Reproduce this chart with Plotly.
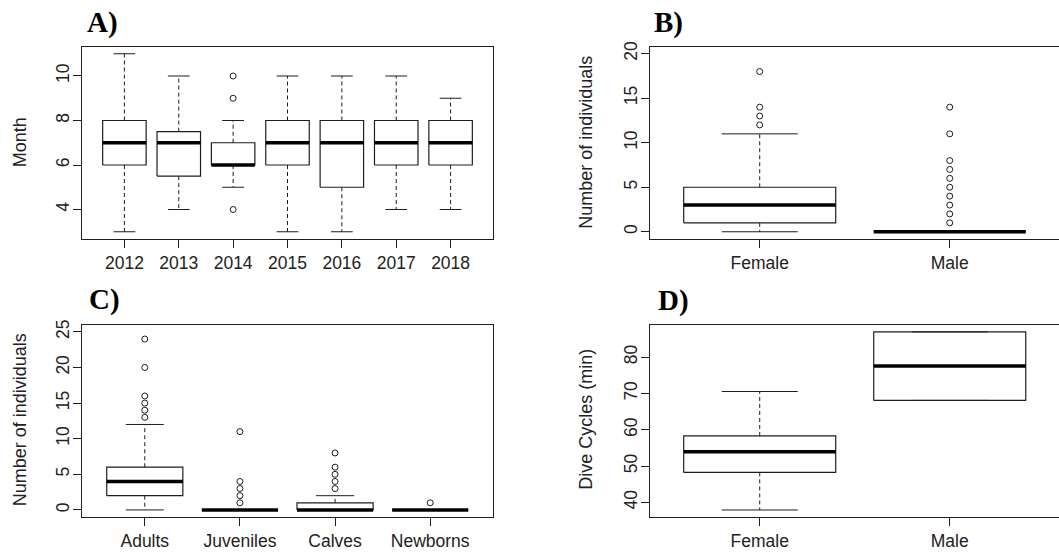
import plotly.graph_objects as go

# ---------------- data ----------------
# Panel A: month by year
years = ['2012', '2013', '2014', '2015', '2016', '2017', '2018']
a_low = [3, 4, 5, 3, 3, 4, 4]
a_q1 = [6, 5.5, 6, 6, 5, 6, 6]
a_med = [7, 7, 6, 7, 7, 7, 7]
a_q3 = [8, 7.5, 7, 8, 8, 8, 8]
a_high = [11, 10, 8, 10, 10, 10, 9]
a_out = [[], [], [4, 9, 10], [], [], [], []]

# Panel B: number of individuals by sex
sexes = ['Female', 'Male']
b_low = [0, 0]
b_q1 = [1, 0]
b_med = [3, 0]
b_q3 = [5, 0]
b_high = [11, 0]
b_out = [[12, 13, 14, 18], [1, 2, 3, 4, 5, 6, 7, 8, 11, 14]]

# Panel C: number of individuals by age class
ages = ['Adults', 'Juveniles', 'Calves', 'Newborns']
c_low = [0, 0, 0, 0]
c_q1 = [2, 0, 0, 0]
c_med = [4, 0, 0, 0]
c_q3 = [6, 0, 1, 0]
c_high = [12, 0, 2, 0]
c_out = [[13, 14, 15, 16, 20, 24], [1, 2, 3, 4, 11], [3, 4, 5, 6, 8], [1]]

# Panel D: dive cycles by sex
d_low = [37.9, 68.1]
d_q1 = [48.25, 68.1]
d_med = [53.95, 77.55]
d_q3 = [58.3, 87.0]
d_high = [70.55, 87.0]
d_out = [[], []]

# ---------------- style ----------------
LINE = '#1e1e1e'
TICKFONT = dict(family='Liberation Sans, Arial, sans-serif', size=17.5, color='#222')
TITLEFONT = dict(family='Liberation Sans, Arial, sans-serif', size=18, color='#222')
LABELFONT = dict(family='Liberation Serif, Times New Roman, serif', size=29, color='#000')

fig = go.Figure()


def add_panel(idx, labels, low, q1, med, q3, high, out):
    xa = 'x' if idx == 1 else f'x{idx}'
    ya = 'y' if idx == 1 else f'y{idx}'
    hw, sw = 0.4, 0.2
    bx, by, wx, wy, sx, sy, mx, my, ox, oy = ([] for _ in range(10))
    for i in range(len(labels)):
        p = i + 1
        bx += [p - hw, p + hw, p + hw, p - hw, p - hw, None]
        by += [q1[i], q1[i], q3[i], q3[i], q1[i], None]
        wx += [p, p, None, p, p, None]
        wy += [q3[i], high[i], None, q1[i], low[i], None]
        sx += [p - sw, p + sw, None, p - sw, p + sw, None]
        sy += [high[i], high[i], None, low[i], low[i], None]
        mx += [p - hw, p + hw, None]
        my += [med[i], med[i], None]
        ox += [p] * len(out[i])
        oy += out[i]
    common = dict(xaxis=xa, yaxis=ya, showlegend=False, hoverinfo='skip')
    fig.add_trace(go.Scatter(x=wx, y=wy, mode='lines',
                             line=dict(color=LINE, width=1, dash='4px,3px'), **common))
    fig.add_trace(go.Scatter(x=sx, y=sy, mode='lines',
                             line=dict(color=LINE, width=1), **common))
    fig.add_trace(go.Scatter(x=bx, y=by, mode='lines',
                             line=dict(color=LINE, width=1.2), **common))
    fig.add_trace(go.Scatter(x=mx, y=my, mode='lines',
                             line=dict(color='#000', width=3.5), **common))
    fig.add_trace(go.Scatter(x=ox, y=oy, mode='markers',
                             marker=dict(symbol='circle-open', size=6, color=LINE,
                                         line=dict(width=1, color=LINE)), **common))


add_panel(1, years, a_low, a_q1, a_med, a_q3, a_high, a_out)
add_panel(2, sexes, b_low, b_q1, b_med, b_q3, b_high, b_out)
add_panel(3, ages, c_low, c_q1, c_med, c_q3, c_high, c_out)
add_panel(4, sexes, d_low, d_q1, d_med, d_q3, d_high, d_out)

W, H = 1059, 555
XL = [82 / W, 493 / W]
XR = [649.5 / W, 1.0]
YT = [(H - 236) / H, (H - 42) / H]
YB = [(H - 516.7) / H, (H - 322.7) / H]


def xaxis(domain, labels, rng, anchor):
    return dict(domain=domain, range=rng, anchor=anchor, tickmode='array',
                tickvals=list(range(1, len(labels) + 1)), ticktext=labels,
                showline=True, mirror=True, linecolor=LINE, linewidth=1,
                ticks='outside', ticklen=8, tickcolor=LINE, tickwidth=1,
                showgrid=False, zeroline=False, tickfont=TICKFONT,
                ticklabelstandoff=0, fixedrange=True)


def yaxis(domain, rng, dtick, anchor, mirror=True):
    return dict(domain=domain, range=rng, anchor=anchor, dtick=dtick, tick0=0,
                showline=True, mirror=mirror, linecolor=LINE, linewidth=1,
                ticks='outside', ticklen=8, tickcolor=LINE, tickwidth=1,
                showgrid=False, zeroline=False, tickfont=TICKFONT, tickangle=-90,
                ticklabelstandoff=-3, fixedrange=True)


fig.update_layout(
    width=W, height=H, margin=dict(l=0, r=0, t=0, b=0),
    paper_bgcolor='white', plot_bgcolor='white',
    xaxis=xaxis(XL, years, [0.22, 7.78], 'y'),
    yaxis=yaxis(YT, [2.68, 11.32], 2, 'x'),
    xaxis2=xaxis(XR, sexes, [0.42, 2.575], 'y2'),
    yaxis2=yaxis(YT, [-0.8, 20.8], 5, 'x2', mirror=False),
    xaxis3=xaxis(XL, ages, [0.34, 4.66], 'y3'),
    yaxis3=yaxis(YB, [-1, 26], 5, 'x3'),
    xaxis4=xaxis(XR, sexes, [0.42, 2.575], 'y4'),
    yaxis4=yaxis(YB, [35.95, 88.94], 10, 'x4', mirror=False),
)

annots = [
    ('<b>A)</b>', 85, 18, LABELFONT),
    ('<b>B)</b>', 651.5, 18, LABELFONT),
    ('<b>C)</b>', 87, 297, LABELFONT),
    ('<b>D)</b>', 656, 298.5, LABELFONT),
]
for txt, px, py, fnt in annots:
    fig.add_annotation(text=txt, x=px / W, y=(H - py) / H, xref='paper', yref='paper',
                       xanchor='left', yanchor='middle', showarrow=False, font=fnt)

titles = [
    ('Month', 20, 138.5),
    ('Number of individuals', 586.5, 138.5),
    ('Number of individuals', 20, 419),
    ('Dive Cycles (min)', 586.5, 418),
]
for txt, px, py in titles:
    fig.add_annotation(text=txt, x=px / W, y=(H - py) / H, xref='paper', yref='paper',
                       xanchor='center', yanchor='middle', textangle=-90,
                       showarrow=False, font=TITLEFONT)

fig.write_html("out.html", config={'displayModeBar': False},
               post_script="document.body.style.margin='0';")
